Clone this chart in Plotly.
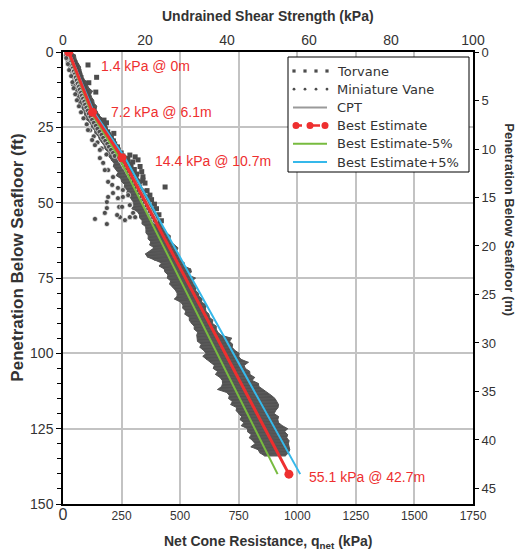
import plotly.graph_objects as go

FONT = "Liberation Sans, Arial, sans-serif"
LFONT = "DejaVu Sans, Verdana, sans-serif"

# ---------------- data ----------------
# Best estimate undrained shear strength profile (kPa vs depth in m)
be_su = [1.4, 7.2, 14.4, 55.1]
be_depth_m = [0.0, 6.1, 10.7, 42.7]
be_labels = ["1.4 kPa @ 0m", "7.2 kPa @ 6.1m", "14.4 kPa @ 10.7m", "55.1 kPa @ 42.7m"]
FT_PER_M = 1 / 0.3048

# Torvane (depth ft, su kPa)
torvane_ft = [0.5, 1.5, 2.5, 3.5, 4.5, 5.5, 6.5, 7.5, 8.5, 9.5, 10.5, 11.5, 12.5, 13.5, 14.5, 15.5,
              16.5, 17.5, 18.5, 19.5, 20.5, 21.5, 22.5, 23.5, 24.5, 25.5, 26.5, 27.5, 28.5, 29.5,
              30.5, 31.5, 32.5, 33.5, 34.5,
              4.3, 8.4, 10.2, 13.3, 22.6, 23.5, 27.0, 34.2, 34.8, 35.8, 37.0, 38.0, 39.7, 41.4,
              42.5, 43.5, 44.8, 36.5, 40.5, 46.0, 47.5, 49.0, 50.5, 52.0, 54.0, 56.0, 35.5, 37.8,
              39.0, 41.0]
torvane_su = [1.6, 2.2, 2.3, 2.9, 3.2, 3.3, 3.9, 4.0, 4.4, 4.6, 4.9, 5.2, 5.3, 5.8, 6.0, 6.1,
              6.6, 6.8, 7.0, 7.5, 7.8, 8.4, 8.9, 9.2, 9.9, 10.2, 10.9, 11.2, 11.8, 12.3,
              12.6, 13.3, 13.5, 14.2, 14.6,
              6.1, 8.2, 6.3, 8.0, 10.0, 10.6, 12.4, 16.3, 17.6, 18.3, 15.6, 18.8, 19.2, 19.5,
              19.5, 20.0, 24.9, 17.0, 18.0, 20.5, 21.2, 21.6, 22.3, 22.8, 23.4, 24.0, 15.8, 16.6,
              17.4, 17.8]

# Miniature vane (depth ft, su kPa)
minivane_ft = [0.5, 1.0, 1.5, 2.0, 2.5, 3.0, 3.5, 4.0, 4.5, 5.0, 5.5, 6.0, 6.5, 7.0, 7.5, 8.0,
               8.5, 9.0, 9.5, 10.0, 10.5, 11.0, 11.5, 12.0, 12.5, 13.0, 13.5, 14.0, 14.5, 15.0,
               15.5, 16.0, 16.5, 17.0, 17.5, 18.0, 18.5, 19.0, 19.5, 20.0, 20.5, 21.0, 21.5, 22.0,
               22.5, 23.0, 23.5, 24.0, 24.5, 25.0, 25.5, 26.0, 26.5, 27.0, 27.5, 28.0, 28.5, 29.0,
               29.5, 30.0, 30.5, 31.0, 31.5, 32.0, 32.5, 33.0, 33.5, 34.0, 34.5, 35.0, 36.0, 37.0,
               38.0, 39.0, 40.0, 41.0, 42.0, 43.0, 44.0, 45.0, 46.0, 47.0, 48.0, 49.0, 50.0, 51.0,
               52.0, 53.0, 54.0, 55.0, 56.0,
               2.0, 4.0, 6.0, 8.0, 10.0, 12.0, 14.0, 16.0, 18.0, 20.0, 22.0, 24.0, 26.0, 28.0,
               30.0, 32.0, 34.0,
               55.4, 43.1, 48.1, 49.8, 51.8, 53.4, 48.5, 51.4, 54.8, 45.8, 55.8, 39.2, 41.5, 32.5,
               36.8, 57.1, 46.8, 54.1, 48.1, 51.4, 53.4, 54.8, 54.8, 50.8, 47.5, 44.1, 45.1, 30.9,
               29.2, 25.9, 35.2, 39.2]
minivane_su = [1.0, 1.3, 1.2, 1.6, 1.5, 1.9, 1.8, 2.2, 2.0, 2.5, 2.3, 2.8, 2.6, 3.0, 2.8, 3.3,
               3.1, 3.6, 3.3, 3.9, 3.6, 4.1, 3.9, 4.4, 4.1, 4.7, 4.4, 5.0, 4.6, 5.2,
               4.9, 5.5, 5.2, 5.8, 5.4, 6.1, 5.7, 6.4, 6.0, 6.7, 6.3, 7.2, 6.7, 7.7,
               7.1, 8.1, 7.5, 8.6, 8.0, 9.0, 8.4, 9.5, 8.9, 10.0, 9.4, 10.5, 9.8, 10.9,
               10.3, 11.4, 10.8, 11.9, 11.2, 12.3, 11.7, 12.8, 12.2, 13.2, 12.6, 13.7, 14.1, 14.6,
               15.0, 15.5, 15.9, 16.3, 16.8, 17.2, 17.6, 18.0, 18.4, 18.8, 19.2, 19.6, 20.0, 20.4,
               20.8, 21.2, 21.6, 22.0, 22.4,
               0.8, 1.2, 1.5, 2.0, 2.3, 2.6, 3.0, 3.4, 3.9, 4.4, 5.0, 5.8, 6.6, 7.5,
               8.4, 9.4, 10.6,
               7.8, 11.0, 11.0, 10.7, 10.7, 10.2, 13.4, 13.7, 13.9, 14.6, 15.1, 11.0, 12.2, 9.0,
               9.8, 10.7, 12.2, 13.2, 14.6, 14.4, 17.1, 17.6, 16.3, 16.3, 15.9, 12.0, 13.4, 7.8,
               7.1, 6.1, 9.0, 10.2]

# CPT net cone resistance band (depth ft, low/high edge of qnet kPa at each foot)
cpt_ft = list(range(0, 135))
cpt_low = [8, 5, 6, 14, 14, 24, 26, 34, 34, 41,
           41, 36, 50, 53, 61, 60, 69, 67, 77, 84,
           89, 93, 91, 110, 119, 123, 135, 136, 151, 155,
           165, 175, 177, 189, 190, 199, 206, 218, 215, 226,
           235, 227, 247, 250, 263, 261, 275, 271, 285, 293,
           302, 302, 294, 318, 326, 327, 338, 337, 353, 354,
           354, 364, 363, 375, 370, 389, 372, 352, 360, 388,
           421, 410, 432, 435, 448, 445, 460, 455, 469, 479,
           487, 487, 476, 502, 512, 511, 524, 520, 539, 539,
           548, 560, 560, 575, 571, 572, 574, 590, 584, 600,
           611, 597, 612, 628, 646, 641, 660, 651, 670, 680,
           681, 677, 660, 699, 710, 707, 723, 716, 741, 739,
           750, 762, 756, 772, 761, 788, 788, 804, 795, 810,
           820, 802, 833, 840, 860]
cpt_high = [32, 53, 55, 59, 67, 75, 75, 81, 83, 88,
            104, 104, 111, 126, 118, 122, 131, 133, 144, 141,
            149, 154, 167, 169, 185, 187, 192, 203, 208, 221,
            224, 237, 239, 246, 258, 282, 282, 292, 292, 300,
            314, 312, 322, 342, 333, 337, 351, 353, 368, 363,
            375, 378, 390, 390, 408, 406, 408, 421, 423, 436,
            443, 458, 457, 461, 474, 491, 485, 494, 494, 502,
            518, 514, 545, 548, 534, 565, 553, 556, 571, 565,
            577, 580, 594, 591, 613, 608, 610, 623, 625, 640,
            637, 654, 654, 661, 675, 720, 711, 724, 722, 733,
            752, 749, 760, 791, 773, 778, 797, 798, 818, 807,
            834, 836, 854, 870, 890, 905, 912, 920, 918, 908,
            901, 920, 917, 920, 936, 959, 946, 959, 955, 965,
            962, 965, 968, 962, 950]

# axis ticks
qnet_ticks = [0, 250, 500, 750, 1000, 1250, 1500, 1750]
su_ticks = [0, 20, 40, 60, 80, 100]
ft_ticks = [0, 25, 50, 75, 100, 125, 150]
m_ticks = [0, 5, 10, 15, 20, 25, 30, 35, 40, 45]

legend_names = ["Torvane", "Miniature Vane", "CPT", "Best Estimate",
                "Best Estimate-5%", "Best Estimate+5%"]

# ---------------- figure ----------------
GRAY = "#4d4d4d"
RED = "#ee2f2f"
GREEN = "#77bb3f"
BLUE = "#35b8ea"

be_ft = [d * FT_PER_M for d in be_depth_m]

cpt_x, cpt_y = [], []
for d, lo, hi in zip(cpt_ft, cpt_low, cpt_high):
    cpt_x += [lo, hi]
    cpt_y += [d, d]

fig = go.Figure()
# CPT band (filled outline + jagged trace)
fig.add_trace(go.Scatter(x=cpt_low + cpt_high[::-1], y=cpt_ft + cpt_ft[::-1], mode="lines",
                         fill="toself", fillcolor="#525252", line=dict(color="#525252", width=1),
                         xaxis="x", yaxis="y", showlegend=False, hoverinfo="skip"))
fig.add_trace(go.Scatter(x=cpt_x, y=cpt_y, mode="lines", name="CPT",
                         line=dict(color="#5a5a5a", width=1),
                         xaxis="x", yaxis="y", showlegend=False))
fig.add_trace(go.Scatter(x=torvane_su, y=torvane_ft, mode="markers", name="Torvane",
                         marker=dict(symbol="square", size=5, color=GRAY),
                         xaxis="x2", yaxis="y", showlegend=False))
fig.add_trace(go.Scatter(x=minivane_su, y=minivane_ft, mode="markers", name="Miniature Vane",
                         marker=dict(symbol="circle", size=5, color=GRAY,
                                     line=dict(color="white", width=0.6)),
                         xaxis="x2", yaxis="y", showlegend=False))
fig.add_trace(go.Scatter(x=[s * 0.95 for s in be_su], y=be_ft, mode="lines",
                         name="Best Estimate-5%", line=dict(color=GREEN, width=2),
                         xaxis="x2", yaxis="y", showlegend=False))
fig.add_trace(go.Scatter(x=[s * 1.05 for s in be_su], y=be_ft, mode="lines",
                         name="Best Estimate+5%", line=dict(color=BLUE, width=2),
                         xaxis="x2", yaxis="y", showlegend=False))
fig.add_trace(go.Scatter(x=be_su, y=be_ft, mode="lines+markers", name="Best Estimate",
                         line=dict(color=RED, width=3), marker=dict(size=9, color=RED),
                         xaxis="x2", yaxis="y", showlegend=False))
# same profile in metres to carry the right-hand depth axis
fig.add_trace(go.Scatter(x=be_su, y=be_depth_m, mode="lines", line=dict(width=0),
                         opacity=0, xaxis="x2", yaxis="y2", showlegend=False, hoverinfo="skip"))

shifts = [(30, -14), (16, 0), (31, -3), (18, -3)]
for s, d, lab, (dx, dy) in zip(be_su, be_ft, be_labels, shifts):
    fig.add_annotation(x=s, y=d, xref="x2", yref="y", text=lab, showarrow=False,
                       xanchor="left", yanchor="middle", xshift=dx, yshift=dy,
                       font=dict(family=FONT, size=14, color=RED))

# axis titles
fig.add_annotation(x=0.5, y=1, xref="paper", yref="paper", yshift=36, showarrow=False,
                   text="<b>Undrained Shear Strength (kPa)</b>", xanchor="center", yanchor="middle",
                   font=dict(family=FONT, size=14, color="#333333"))
fig.add_annotation(x=0.5, y=0, xref="paper", yref="paper", yshift=-38, showarrow=False,
                   text="<b>Net Cone Resistance, q<sub>net</sub> (kPa)</b>", xanchor="center",
                   yanchor="middle", font=dict(family=FONT, size=14, color="#333333"))
fig.add_annotation(x=0, y=0.545, xref="paper", yref="paper", xshift=-45, showarrow=False,
                   text="<b>Penetration Below Seafloor (ft)</b>", textangle=-90,
                   xanchor="center", yanchor="middle", font=dict(family=FONT, size=17, color="#333333"))
fig.add_annotation(x=1, y=0.63, xref="paper", yref="paper", xshift=37, showarrow=False,
                   text="<b>Penetration Below Seafloor (m)</b>", textangle=90,
                   xanchor="center", yanchor="middle", font=dict(family=FONT, size=13, color="#333333"))

# ---------------- hand-built legend (pixel layout -> paper coords) ----------------
PL, PR, PT, PB = 63, 473, 52, 504
def px(xp):
    return (xp - PL) / (PR - PL)
def py(yp):
    return (PB - yp) / (PB - PT)

shapes = [dict(type="rect", xref="paper", yref="paper", x0=px(288), x1=px(469), y0=py(57), y1=py(172),
               line=dict(color="black", width=1), fillcolor="white", layer="above")]
row_y = [71 + 18.2 * i for i in range(6)]
sx0, sx1 = 293, 327
dots_x = [294, 305, 316, 327]
# Torvane squares
for xd in dots_x:
    shapes.append(dict(type="rect", xref="paper", yref="paper", x0=px(xd - 1.6), x1=px(xd + 1.6),
                       y0=py(row_y[0] + 1.6), y1=py(row_y[0] - 1.6), line=dict(width=0),
                       fillcolor=GRAY, layer="above"))
# Miniature vane dots
for xd in dots_x:
    shapes.append(dict(type="circle", xref="paper", yref="paper", x0=px(xd - 1.4), x1=px(xd + 1.4),
                       y0=py(row_y[1] + 1.4), y1=py(row_y[1] - 1.4), line=dict(width=0),
                       fillcolor=GRAY, layer="above"))
# CPT line
shapes.append(dict(type="line", xref="paper", yref="paper", x0=px(sx0), x1=px(sx1),
                   y0=py(row_y[2]), y1=py(row_y[2]), line=dict(color="#9a9a9a", width=2), layer="above"))
# Best estimate dashed with dots
shapes.append(dict(type="line", xref="paper", yref="paper", x0=px(sx0), x1=px(sx1),
                   y0=py(row_y[3]), y1=py(row_y[3]), line=dict(color=RED, width=2.5, dash="dash"),
                   layer="above"))
for xd in [296, 310, 325]:
    shapes.append(dict(type="circle", xref="paper", yref="paper", x0=px(xd - 3.5), x1=px(xd + 3.5),
                       y0=py(row_y[3] + 3.5), y1=py(row_y[3] - 3.5), line=dict(width=0),
                       fillcolor=RED, layer="above"))
shapes.append(dict(type="line", xref="paper", yref="paper", x0=px(sx0), x1=px(sx1),
                   y0=py(row_y[4]), y1=py(row_y[4]), line=dict(color=GREEN, width=2), layer="above"))
shapes.append(dict(type="line", xref="paper", yref="paper", x0=px(sx0), x1=px(sx1),
                   y0=py(row_y[5]), y1=py(row_y[5]), line=dict(color=BLUE, width=2), layer="above"))
for name, ry in zip(legend_names, row_y):
    fig.add_annotation(x=px(335), y=py(ry), xref="paper", yref="paper", text=name, showarrow=False,
                       xanchor="left", yanchor="middle",
                       font=dict(family=LFONT, size=13, color="#333333"))

fig.update_layout(
    width=523, height=551,
    margin=dict(l=63, r=50, t=52, b=47),
    paper_bgcolor="white", plot_bgcolor="white",
    font=dict(family=FONT, color="#333333"),
    showlegend=False,
    shapes=shapes,
    xaxis=dict(range=[0, 1750], tickvals=qnet_ticks,
               ticktext=["<span style='font-size:16px'>0</span>"] + [str(t) for t in qnet_ticks[1:]],
               showgrid=True, gridcolor="#c3c3c3", gridwidth=1.5,
               showline=True, linecolor="black", linewidth=1.5, ticks="",
               tickfont=dict(size=12), zeroline=False),
    xaxis2=dict(range=[0, 100], overlaying="x", side="top", tickvals=su_ticks,
                showgrid=False, showline=True, linecolor="black", linewidth=1.5,
                ticks="", tickfont=dict(size=14), zeroline=False, anchor="y"),
    yaxis=dict(range=[150, 0], tickvals=ft_ticks, showgrid=True, gridcolor="#c3c3c3",
               gridwidth=1.5, showline=True, linecolor="black", linewidth=1.5,
               ticks="outside", ticklen=5, tickcolor="black",
               minor=dict(dtick=5, ticks="outside", ticklen=4, tickcolor="black", showgrid=False),
               tickfont=dict(size=14), zeroline=False),
    yaxis2=dict(range=[46.6, 0], overlaying="y", side="right", tickvals=m_ticks,
                showgrid=False, showline=True, linecolor="black", linewidth=2,
                ticks="outside", ticklen=4, tickcolor="black", tickfont=dict(size=13),
                zeroline=False, anchor="x2"),
)

fig.write_html("out.html")
